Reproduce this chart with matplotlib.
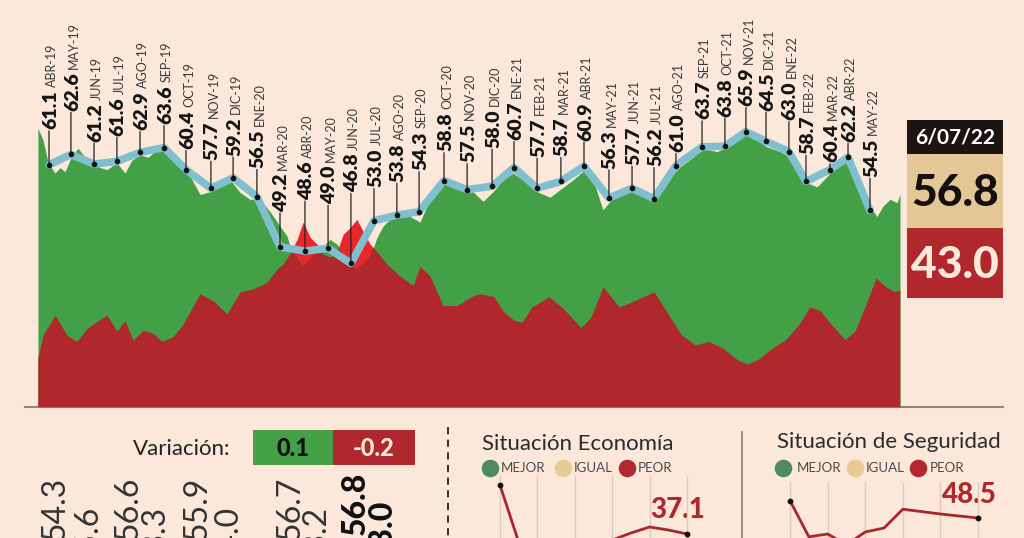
import numpy as np
import matplotlib
matplotlib.use("Agg")
import matplotlib.pyplot as plt
from matplotlib.patches import Rectangle

plt.rcParams["font.family"] = ["Lato", "DejaVu Sans"]

# ── datos ──────────────────────────────────────────────────────────────
meses = ["ABR-19", "MAY-19", "JUN-19", "JUL-19", "AGO-19", "SEP-19", "OCT-19",
         "NOV-19", "DIC-19", "ENE-20", "MAR-20", "ABR-20", "MAY-20", "JUN-20",
         "JUL-20", "AGO-20", "SEP-20", "OCT-20", "NOV-20", "DIC-20", "ENE-21",
         "FEB-21", "MAR-21", "ABR-21", "MAY-21", "JUN-21", "JUL-21", "AGO-21",
         "SEP-21", "OCT-21", "NOV-21", "DIC-21", "ENE-22", "FEB-22", "MAR-22",
         "ABR-22", "MAY-22"]
aprob_mensual = [61.1, 62.6, 61.2, 61.6, 62.9, 63.6, 60.4, 57.7, 59.2, 56.5,
                 49.2, 48.6, 49.0, 46.8, 53.0, 53.8, 54.3, 58.8, 57.5, 58.0,
                 60.7, 57.7, 58.7, 60.9, 56.3, 57.7, 56.2, 61.0, 63.7, 63.8,
                 65.9, 64.5, 63.0, 58.7, 60.4, 62.2, 54.5]
# posición de cada medición mensual (en meses desde ABR-19)
mes_pos = [0.00, 0.95, 1.95, 2.94, 3.94, 4.98, 5.93, 7.01, 7.97, 9.00, 10.00,
           11.08, 12.08, 13.07, 14.07, 15.06, 16.02, 17.10, 18.10, 19.18, 20.13,
           21.13, 22.16, 23.16, 24.24, 25.24, 26.19, 27.14, 28.27, 29.26, 30.17,
           31.04, 32.03, 32.77, 33.81, 34.59, 35.54]

# tracking diario (aprobación)
apr_pos = [-0.48, -0.26, -0.04, 0.26, 0.48, 0.69, 1.00, 1.26, 1.56, 1.86, 2.21,
           2.51, 2.94, 3.29, 3.59, 3.94, 4.29, 4.68, 5.02, 5.37, 5.89, 6.23,
           6.54, 6.97, 7.40, 7.84, 8.27, 8.70, 9.13, 9.57, 10.00, 10.30, 10.43,
           10.74, 11.00, 11.30, 11.60, 11.86, 12.16, 12.47, 12.73, 13.03, 13.33,
           13.59, 13.90, 14.20, 14.46, 14.63, 15.19, 15.63, 16.06, 16.49, 16.93,
           17.23, 17.79, 18.35, 18.79, 19.22, 19.65, 20.09, 20.52, 21.13, 21.69,
           22.12, 22.68, 23.20, 23.55, 23.98, 24.29, 24.72, 25.24, 25.71, 26.19,
           26.75, 27.32, 27.88, 28.31, 28.92, 29.35, 29.91, 30.22, 30.65, 31.08,
           31.65, 32.08, 32.51, 32.81, 33.25, 33.68, 34.24, 34.55, 34.81, 35.24,
           35.54, 35.84, 36.10, 36.41, 36.71, 36.84]
apr_val = [66.4, 64.7, 61.4, 59.9, 60.7, 60.1, 62.5, 63.5, 62.2, 61.4, 60.7,
           60.4, 61.4, 59.9, 61.8, 62.5, 62.2, 63.3, 63.5, 61.8, 60.8, 58.7,
           56.8, 57.2, 57.9, 58.9, 57.1, 56.1, 56.1, 54.3, 52.2, 50.8, 49.3,
           47.7, 46.4, 47.4, 48.6, 49.3, 50.3, 49.6, 48.2, 46.7, 46.0,
           46.7, 47.7, 50.6, 52.2, 52.8, 54.2, 53.6, 52.8, 56.1, 57.9,
           58.7, 57.9, 57.2, 55.8, 57.2, 58.9, 59.9, 58.9, 57.2, 56.4,
           57.5, 58.9, 60.4, 58.9, 54.6, 55.8, 57.5, 57.2, 56.5, 56.1,
           58.9, 60.8, 62.2, 63.5, 63.0, 63.7, 65.0, 65.4, 64.7, 63.7,
           63.0, 62.2, 60.4, 58.5, 57.9, 59.4, 61.8, 62.5, 61.4, 57.9,
           55.1, 53.6, 55.1, 56.1, 55.6, 56.8]

# tracking diario (desaprobación)
des_pos = [-0.48, -0.26, 0.26, 0.78, 1.21, 1.65, 2.08, 2.51, 2.94, 3.29, 3.64,
           4.07, 4.50, 4.89, 5.37, 5.76, 6.10, 6.54, 7.10, 7.71, 8.27, 8.83,
           9.44, 9.87, 10.13, 10.43, 10.74, 11.00, 11.30, 11.60, 11.86, 12.16,
           12.47, 12.73, 13.03, 13.33, 13.59, 13.90, 14.20, 14.63, 15.19, 15.76,
           16.06, 16.49, 17.06, 17.66, 18.35, 18.66, 19.26, 19.70, 20.17, 20.48,
           20.91, 21.65, 22.25, 23.03, 23.46, 23.98, 24.68, 25.28, 26.19, 26.80,
           27.36, 27.97, 28.57, 29.18, 29.78, 30.22, 30.69, 31.30, 31.90, 32.47,
           32.94, 33.38, 33.85, 34.46, 34.89, 35.32, 35.80, 36.23, 36.62, 36.84]
des_val = [33.1, 36.4, 39.3, 36.4, 35.5, 37.4, 38.4, 39.3, 37.0, 38.5, 35.7,
           37.1, 36.7, 35.5, 36.2, 37.8, 39.8, 42.4, 41.4, 39.5, 42.7, 43.1,
           44.1, 46.0, 46.7, 48.2, 50.3, 52.8, 50.6, 49.6, 48.2, 47.7,
           48.5, 51.0, 52.0, 53.2, 51.5, 49.6, 48.5, 46.7, 45.0, 43.6,
           46.4, 45.0, 40.7, 40.7, 42.1, 42.4, 42.0, 39.7, 38.5, 38.3,
           40.5, 42.0, 40.3, 37.5, 39.0, 43.4, 40.5, 41.3, 42.7, 39.5,
           36.5, 35.0, 35.5, 34.5, 32.9, 32.2, 32.9, 34.5, 35.8, 38.0,
           40.5, 40.0, 38.0, 35.8, 37.0, 40.5, 44.7, 43.4, 42.7, 43.0]

fecha_corte = "6/07/22"
tabla_aprueba = [54.3, 56.6, 55.9, 56.7, 56.8]
tabla_desaprueba = [45.6, 43.3, 44.0, 43.2, 43.0]

eco_peor = [46.9, 35.5, 33.0, 31.0, 32.0, 34.0, 35.9, 37.3, 38.5, 37.9, 37.1]
seg_peor = [52.8, 43.8, 44.5, 41.8, 45.0, 46.0, 50.7, 50.1, 49.5, 49.0, 48.5]
leyenda = ["MEJOR", "IGUAL", "PEOR"]

# ── estilo / maquetación ───────────────────────────────────────────────
FONDO = "#fce8da"
VERDE = "#43a047"
ROJO = "#b0272d"
ROJO_VIVO = "#e8262b"
AZUL = "#80bfce"
CREMA = "#fde9da"
COL_LEY = ["#4e8a62", "#e6cc94", "#b3272e"]

W, H, DPI = 1024, 538, 100
Y_BASE = 26.0
fig = plt.figure(figsize=(W / DPI, H / DPI), dpi=DPI, facecolor=FONDO)


def caja(x0, y0, x1, y1):
    return [x0 / W, 1 - y1 / H, (x1 - x0) / W, (y1 - y0) / H]


# capa de maquetación en píxeles
lay = fig.add_axes([0, 0, 1, 1])
lay.set_xlim(0, W)
lay.set_ylim(H, 0)
lay.axis("off")
lay.patch.set_alpha(0)

# ── gráfica principal ─────────────────────────────────────────────────
ax = fig.add_axes(caja(0, 0, W, 407))
ax.patch.set_alpha(0)
ax.axis("off")
ax.set_xlim(-49 / 23.1, (W - 49) / 23.1)
ax.set_ylim(Y_BASE, Y_BASE + 407 / 6.9)

ax.fill_between(des_pos, Y_BASE, des_val, color=ROJO_VIVO, lw=0, zorder=1)
verde = ax.fill_between(apr_pos, Y_BASE, apr_val, color=VERDE, lw=0, zorder=2)
oscuro = ax.fill_between(des_pos, Y_BASE, des_val, color=ROJO, lw=0, zorder=3)
oscuro.set_clip_path(verde.get_paths()[0], ax.transData)

ax.plot(mes_pos, aprob_mensual, color=AZUL, lw=5.5, zorder=4,
        solid_joinstyle="round", solid_capstyle="round")
ax.plot(mes_pos, aprob_mensual, "o", ms=3, color="#111111", zorder=6)

# distancia (px) entre el punto y su etiqueta
desfase = [34, 42, 21, 24, 21, 22, 19, 27, 21, 27, 34, 50, 43, 70, 32, 32, 40,
           28, 26, 37, 26, 30, 24, 24, 28, 22, 31, 12, 26, 28, 24, 29, 30, 26,
           6, 14, 32]

renderer = fig.canvas.get_renderer()
for x, v, mes, d in zip(mes_pos, aprob_mensual, meses, desfase):
    L = d * 0.72
    ax.annotate("", xy=(x, v), xytext=(0, L), textcoords="offset points",
                arrowprops=dict(arrowstyle="-", lw=0.9, color="#222222",
                                shrinkA=0, shrinkB=0), zorder=5)
    t = ax.annotate(f"{v:.1f}", xy=(x, v), xytext=(5.0, L + 1),
                    textcoords="offset points", rotation=90,
                    rotation_mode="anchor", ha="left", va="baseline",
                    fontsize=14, fontweight="heavy", color="#151515")
    alto = t.get_window_extent(renderer).height * 72 / DPI
    ax.annotate(mes, xy=(x, v), xytext=(5.0, L + 1 + alto + 2.5),
                textcoords="offset points", rotation=90,
                rotation_mode="anchor", ha="left", va="baseline",
                fontsize=9, fontweight="normal", color="#3a3a3a")

lay.plot([25, 1003], [407, 407], color="#8c8782", lw=1.5)

# cajas de la derecha
lay.add_patch(Rectangle((907, 120), 96, 34, color="#1b1412", lw=0))
lay.add_patch(Rectangle((907, 154), 96, 74, color="#e3c896", lw=0))
lay.add_patch(Rectangle((907, 228), 96, 70, color=ROJO, lw=0))
lay.text(955, 138, fecha_corte, ha="center", va="center", fontsize=15,
         fontweight="bold", color="white")
lay.text(955, 193, f"{tabla_aprueba[-1]:.1f}", ha="center", va="center",
         fontsize=32, fontweight="black", color="#151010")
lay.text(955, 265, f"{tabla_desaprueba[-1]:.1f}", ha="center", va="center",
         fontsize=32, fontweight="black", color=CREMA)

# ── variación y tabla ─────────────────────────────────────────────────
var_a = tabla_aprueba[-1] - tabla_aprueba[-2]
var_d = tabla_desaprueba[-1] - tabla_desaprueba[-2]
lay.text(230, 449, "Variación:", ha="right", va="center", fontsize=16,
         fontweight="normal", color="#222222")
lay.add_patch(Rectangle((253, 430), 80, 35, color=VERDE, lw=0))
lay.add_patch(Rectangle((333, 430), 82, 35, color=ROJO, lw=0))
lay.text(293, 448, f"{var_a:.1f}", ha="center", va="center", fontsize=17,
         fontweight="black", color="#111111")
lay.text(374, 448, f"{var_d:.1f}", ha="center", va="center", fontsize=17,
         fontweight="black", color=CREMA)

col_a = [55, 128, 197, 290, 355]
col_d = [90, 157, 230, 318, 383]
for i, (a, d) in enumerate(zip(tabla_aprueba, tabla_desaprueba)):
    ultimo = i == len(tabla_aprueba) - 1
    peso = "black" if ultimo else "normal"
    col = "#111111" if ultimo else "#333333"
    lay.text(col_a[i], 472 if ultimo else 477, f"{a:.1f}", rotation=90,
             rotation_mode="anchor", ha="right", va="center", fontsize=23,
             fontweight=peso, color=col)
    lay.text(col_d[i], 501 if ultimo else 507, f"{d:.1f}", rotation=90,
             rotation_mode="anchor", ha="right", va="center", fontsize=23,
             fontweight=peso, color=col)

lay.plot([448, 448], [427, 538], color="#222222", lw=1.3, ls=(0, (4, 3)))
lay.plot([742, 742], [432, 538], color="#7b7b7b", lw=1.2)


# ── paneles inferiores ────────────────────────────────────────────────
def panel(titulo, tx, ty, valores, caja_px, xlim, ylim, ytop, circ, textos,
          etq_x, etq_y):
    lay.text(tx, ty, titulo, ha="left", va="baseline", fontsize=16,
             color="#2b2b2b")
    for cx, c, s, sx in zip(circ, COL_LEY, leyenda, textos):
        lay.scatter([cx], [468], s=160, color=c, lw=0)
        lay.text(sx, 468, s, ha="left", va="center", fontsize=9.5,
                 fontweight="normal", color="#4a4a4a")
    p = fig.add_axes(caja(*caja_px))
    p.patch.set_alpha(0)
    p.axis("off")
    p.set_xlim(*xlim)
    p.set_ylim(*ylim)
    idx = np.arange(len(valores))
    p.vlines(idx[::2], ylim[0] - 20, ytop, color="#dccbbf", lw=1)
    p.plot(idx, valores, color="#a8262d", lw=2)
    p.plot(idx[[0, -1]], np.array(valores)[[0, -1]], "o", ms=3.2,
           color="#111111")
    lay.text(etq_x, etq_y, f"{valores[-1]:.1f}", ha="right", va="baseline",
             fontsize=20, fontweight="black", color=ROJO)


panel("Situación Economía", 482, 450, eco_peor, (470, 470, 720, 538),
      (-1.6, 11.76), (36.3, 49.9), 48.9, [490, 563, 627], [501, 574, 638],
      705, 518)
panel("Situación de Seguridad", 777, 448, seg_peor, (760, 470, 1010, 538),
      (-1.6, 11.7), (43.5, 60.5), 57.5, [783, 855, 918], [797, 866, 930],
      997, 503)

fig.savefig("out.png", dpi=DPI, facecolor=FONDO)
